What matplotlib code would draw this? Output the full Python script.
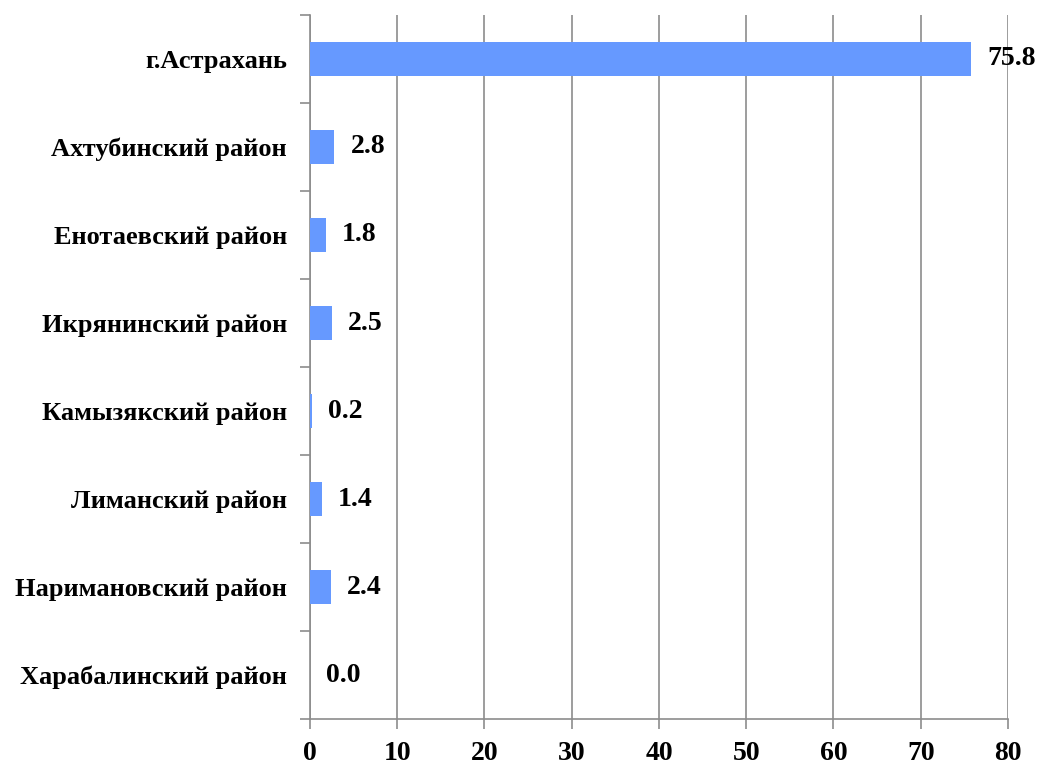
import matplotlib.pyplot as plt
from matplotlib.transforms import offset_copy

districts = [
    "г.Астрахань",
    "Ахтубинский район",
    "Енотаевский район",
    "Икрянинский район",
    "Камызякский район",
    "Лиманский район",
    "Наримановский район",
    "Харабалинский район",
]
values = [75.8, 2.8, 1.8, 2.5, 0.2, 1.4, 2.4, 0.0]
x_ticks = [0, 10, 20, 30, 40, 50, 60, 70, 80]

BAR = "#6699FF"
GRID = "#8C8C8C"

plt.rcParams["font.family"] = ["Liberation Serif", "DejaVu Serif"]
plt.rcParams["font.weight"] = "bold"

fig = plt.figure(figsize=(10.37, 7.6), dpi=100)
ax = fig.add_axes([0.2989, 0.0539, 0.6731, 0.9264])

pos = list(range(len(districts)))
ax.barh(pos, values, height=0.39, color=BAR, linewidth=0, zorder=3)

for p, v in zip(pos, values):
    tr = offset_copy(ax.transData, fig=fig, x=16, y=0, units="dots")
    ax.text(v, p, f"{v:.1f}", transform=tr, ha="left", va="center",
            fontsize=20, fontweight="bold", color="black", zorder=4)

ax.set_xlim(0, 80)
ax.set_ylim(len(districts) - 0.5, -0.5)
ax.set_xticks(x_ticks)
ax.set_xticklabels([str(t) for t in x_ticks], fontsize=20, fontweight="bold")

# category labels centred in rows, tick marks on the row boundaries
ax.set_yticks(pos)
ax.set_yticklabels(districts, fontsize=19, fontweight="bold")
ax.tick_params(axis="y", which="major", length=0, pad=16.5)
ax.set_yticks([p - 0.5 for p in range(len(districts) + 1)], minor=True)
ax.tick_params(axis="y", which="minor", length=7, width=1.2, color=GRID, direction="out")
ax.tick_params(axis="x", length=7, width=1.2, color=GRID, direction="out", pad=9)

ax.grid(axis="x", color=GRID, linewidth=1.2, zorder=0)
for s in ["top", "right"]:
    ax.spines[s].set_visible(False)
for s in ["left", "bottom"]:
    ax.spines[s].set_color(GRID)
    ax.spines[s].set_linewidth(1.2)

fig.savefig("out.png", dpi=100, facecolor="white")
